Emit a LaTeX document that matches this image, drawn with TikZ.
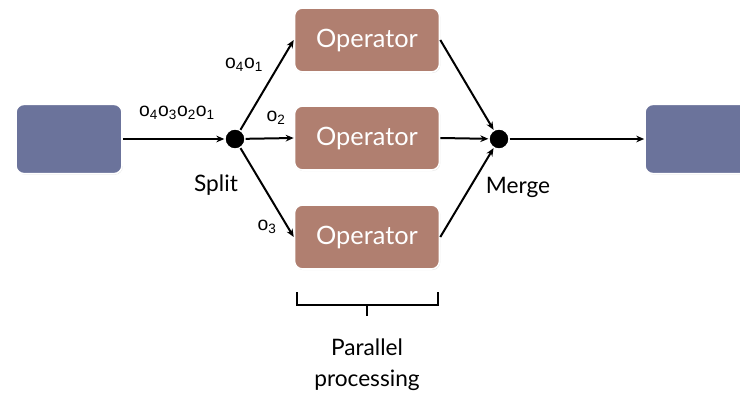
\documentclass[tikz,border=0pt]{standalone}
\usepackage{fontspec}
\setmainfont{Lato}
\newfontfamily\labfont{Liberation Sans}
\usetikzlibrary{arrows.meta,shadows}
\definecolor{srcblue}{RGB}{107,115,155}
\definecolor{opbrown}{RGB}{176,127,112}

\begin{document}
\begin{tikzpicture}[x=0.75pt,y=-0.75pt,>={Stealth[length=6pt,width=5pt]},
  blk/.style={draw=white,line width=1.2pt,fill=srcblue,rounded corners=6pt,minimum width=79.5pt,minimum height=52pt,drop shadow={opacity=0.2,shadow xshift=0.6pt,shadow yshift=-0.8pt}},
  opbox/.style={draw=white,line width=1.2pt,fill=opbrown,rounded corners=6pt,minimum width=108.75pt,minimum height=48pt,text=white,font=\fontsize{19}{22}\selectfont,drop shadow={opacity=0.2,shadow xshift=0.6pt,shadow yshift=-0.8pt}},
  dot/.style={circle,fill=black,draw=white,line width=1pt,minimum size=15pt,inner sep=0pt},
  lab/.style={font=\labfont\fontsize{14.5}{16}\selectfont},
  captxt/.style={font=\fontsize{17}{23.5}\selectfont},
  link/.style={->,line width=1.5pt}]
\useasboundingbox (0,0) rectangle (740,396);
% source, split, operators, merge, sink
\node[blk] (src) at (69,139) {};
\node[dot] (split) at (235,139) {};
\foreach \i/\y in {1/40,2/138,3/237}
  \node[opbox] (op\i) at (367,\y) {Operator};
\node[dot] (merge) at (499,139) {};
\node[blk] (dst) at (698,139) {};
% connectors
\draw[link] (src) -- (split);
\foreach \i in {1,2,3} {
  \draw[link] (split) -- (op\i.west);
  \draw[link] (op\i.east) -- (merge);
}
\draw[link] (merge) -- (dst);
% labels
\node[lab] (lin) at (177,113) {o\textsubscript{4}o\textsubscript{3}o\textsubscript{2}o\textsubscript{1}};
\node[lab] (l1) at (244,65) {o\textsubscript{4}o\textsubscript{1}};
\node[lab] (l2) at (276,118) {o\textsubscript{2}};
\node[lab] (l3) at (267,227) {o\textsubscript{3}};
\node[captxt] (splitlab) at (216,185) {Split};
\node[captxt] (mergelab) at (518,187) {Merge};
% bracket under the operators
\draw[line width=1.6pt] (297,292) -- (297,305) -- (438,305) -- (438,292);
\draw[line width=1.6pt] (367,305) -- (367,316);
\node[captxt,align=center] (par) at (367,365) {Parallel\\processing};
\end{tikzpicture}
\end{document}
